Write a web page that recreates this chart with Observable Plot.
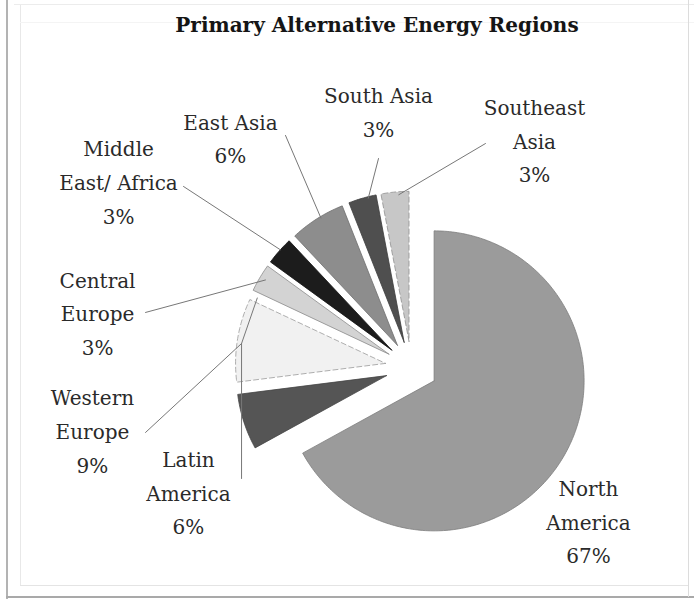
<!DOCTYPE html>
<html><head><meta charset="utf-8">
<script src="https://cdn.jsdelivr.net/npm/d3@7"></script>
<script src="https://cdn.jsdelivr.net/npm/@observablehq/plot@0.6"></script>
<style>
html,body{margin:0;padding:0;background:#fff;}
#frame{position:relative;width:694px;height:599px;overflow:hidden;background:#fff;}
.ln{position:absolute;}
#title{position:absolute;left:77px;width:600px;top:13px;text-align:center;font-family:"DejaVu Serif";font-weight:bold;font-size:20px;color:#151515;white-space:nowrap;}
#chart{position:absolute;left:0;top:50px;}
</style></head><body>
<div id="frame">
  <div class="ln" style="left:6px;top:0;width:2px;height:599px;background:#b3b3b3"></div>
  <div class="ln" style="left:20px;top:5px;width:1px;height:581px;background:#e8e8e8"></div>
  <div class="ln" style="left:14px;top:4px;width:680px;height:1px;background:#ececec"></div>
  <div class="ln" style="left:20px;top:22px;width:674px;height:1px;background:#f4f4f4"></div>
  <div class="ln" style="left:20px;top:585px;width:668px;height:1px;background:#e4e4e4"></div>
  <div class="ln" style="left:6px;top:596px;width:688px;height:2px;background:#a9a9a9"></div>
  <div class="ln" style="left:688px;top:0;width:1px;height:597px;background:#dcdcdc"></div>
  <div id="title">Primary Alternative Energy Regions</div>
  <div id="chart"></div>
</div>
<script>
// ---- data ----
const regions = ["North America", "Latin America", "Western Europe", "Central Europe",
                 "Middle East/ Africa", "East Asia", "South Asia", "Southeast Asia"];
const shares = [67, 6, 9, 3, 3, 6, 3, 3];
const labelLines = [["North", "America"], ["Latin", "America"], ["Western", "Europe"], ["Central", "Europe"],
                    ["Middle", "East/ Africa"], ["East Asia"], ["South Asia"], ["Southeast", "Asia"]];

// ---- styles ----
const fills = ["#9b9b9b", "#555555", "#f1f1f1", "#d3d3d3", "#1c1c1c", "#8d8d8d", "#4f4f4f", "#c7c7c7"];
const strokes = ["#7d7d7d", "#444444", "#9a9a9a", "#8a8a8a", "#111111", "#6e6e6e", "#3c3c3c", "#8f8f8f"];
const dashes = [null, null, "5,3", null, null, null, null, "5,3"];

// ---- layout (pie units: 1 = radius, origin = pie centre, y up) ----
const explode = 0.175;
const labelPos = [[1.18, -1.01], [-1.487, -0.815], [-2.127, -0.405], [-2.093, 0.38],
                  [-1.953, 1.255], [-1.207, 1.545], [-0.22, 1.72], [0.82, 1.53]];
const leaders = [
  {region: "East Asia", from: [[-0.84, 1.547]], at: 329, r: 0.99},
  {region: "Middle East/ Africa", from: [[-1.52, 1.207]], at: 312, r: 1.0},
  {region: "South Asia", from: [[-0.22, 1.393]], at: 346, r: 0.99},
  {region: "Southeast Asia", from: [[0.493, 1.493]], at: 356, r: 0.98},
  {region: "Central Europe", from: [[-1.773, 0.367]], at: 301, r: 0.96},
  {region: "Western Europe", from: [[-1.773, -0.433], [-1.133, 0.16]], at: 297, r: 0.96},
  {region: "Latin America", from: [[-1.133, -0.74], [-1.133, 0.16]]}
];

const W = 694, H = 549, R = 150, cx = 411, cy = 317;

const arcs = d3.pie().sort(null).value(d => d)(shares);
const rad = a => a * Math.PI / 180;
function apexOf(i) {
  const mid = (arcs[i].startAngle + arcs[i].endAngle) / 2;
  return [explode * Math.sin(mid), explode * Math.cos(mid)];
}
const slices = regions.map((name, i) => {
  const [ax, ay] = apexOf(i);
  const a0 = arcs[i].startAngle, a1 = arcs[i].endAngle;
  const n = Math.max(4, Math.ceil((a1 - a0) / rad(1)));
  const pts = [{x: ax, y: ay}];
  for (let k = 0; k <= n; k++) {
    const a = a0 + (a1 - a0) * k / n;
    pts.push({x: ax + Math.sin(a), y: ay + Math.cos(a)});
  }
  pts.push({x: ax, y: ay});
  return {name, i, pts};
});

const leaderPts = [];
leaders.forEach(l => {
  l.from.forEach(([x, y]) => leaderPts.push({name: l.region, x, y}));
  if (l.at != null) {
    const i = regions.indexOf(l.region);
    const [ax, ay] = apexOf(i);
    const a = rad(l.at);
    leaderPts.push({name: l.region, x: ax + l.r * Math.sin(a), y: ay + l.r * Math.cos(a)});
  }
});

const labels = regions.map((name, i) => ({
  name, x: labelPos[i][0], y: labelPos[i][1],
  text: [...labelLines[i], shares[i] + "%"].join("\n")
}));

const chart = Plot.plot({
  width: W, height: H,
  margin: 0,
  x: {domain: [-cx / R, (W - cx) / R], range: [0, W], axis: null},
  y: {domain: [-(H - cy) / R, cy / R], range: [H, 0], axis: null},
  style: {background: "transparent", overflow: "visible"},
  marks: [
    ...slices.map(s => Plot.line(s.pts, {
      x: "x", y: "y", fill: fills[s.i], stroke: strokes[s.i], strokeWidth: 0.8,
      strokeDasharray: dashes[s.i] || undefined, curve: "linear"
    })),
    Plot.line(leaderPts, {x: "x", y: "y", z: "name", stroke: "#777777", strokeWidth: 1}),
    Plot.text(labels, {
      x: "x", y: "y", text: "text", fontSize: 20, fontFamily: "DejaVu Serif",
      lineHeight: 1.68, fill: "#2a2a2a", textAnchor: "middle"
    })
  ]
});
document.getElementById("chart").appendChild(chart);
</script>
</body></html>
